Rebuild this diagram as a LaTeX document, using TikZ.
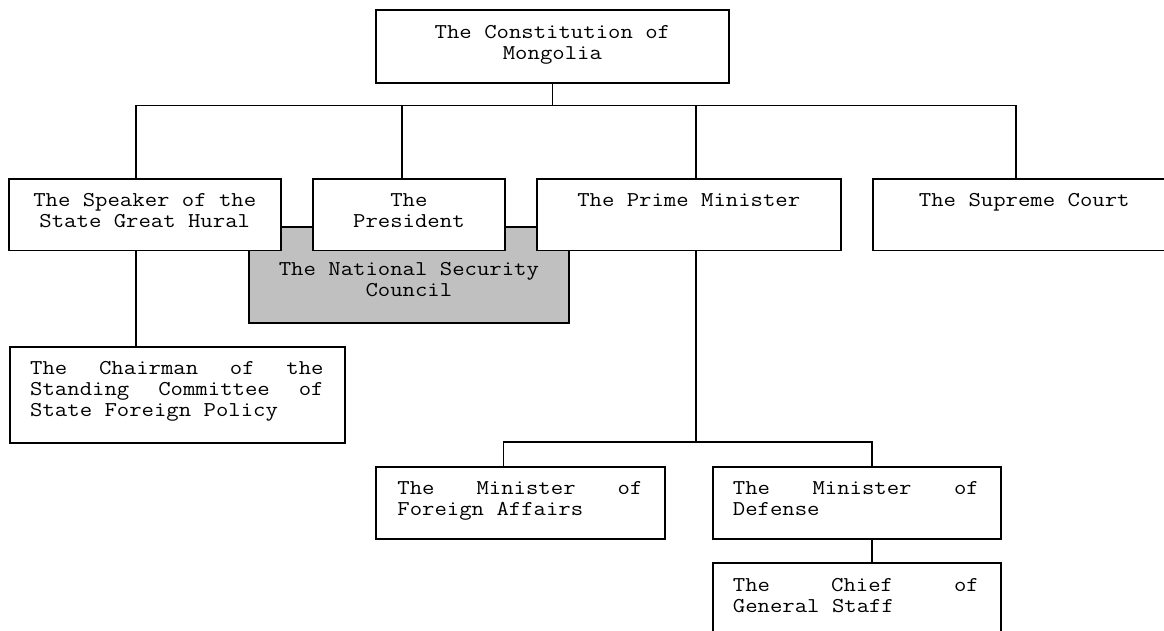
\documentclass[tikz,border=0pt]{standalone}
\usepackage{fontspec}
\newfontfamily\boxmono{Latin Modern Mono}[FakeStretch=1.14]
\definecolor{nscgray}{HTML}{C0C0C0}
\tikzset{
  conn/.style={line width=1.8pt},
  orgbox/.style={draw, line width=1.8pt, fill=white, inner sep=0pt, anchor=north west,
    font=\boxmono\fontsize{21.1}{20.8}\selectfont},
  nscbox/.style={orgbox, fill=nscgray}
}
% centred text box: width, height, first-baseline offset, text
\newcommand{\cbx}[4]{\parbox[c][#2][t]{#1}{\centering\rule{0pt}{#3}#4}}
% justified text box: width, height, left inset, text
\newcommand{\jbx}[4]{\parbox[c][#2][t]{#1}{\raggedright\leftskip=#3\relax\rule{0pt}{28pt}#4}}
\newcommand{\jl}[2]{\leavevmode\hbox to #1{#2}}
\begin{document}
\begin{tikzpicture}[x=1pt,y=-1pt]
\useasboundingbox (0,0) rectangle (1164,630);
\clip (0,0) rectangle (1164,630);

\coordinate (busL) at (136,105.5);
\coordinate (busR) at (1016,105.5);
\coordinate (jPres) at (401.7,105.5);
\coordinate (jPM) at (695.8,105.5);
\coordinate (bus2L) at (503.4,441.7);
\coordinate (bus2R) at (872,441.7);

\node[orgbox] (con) at (375,9.3) {\cbx{353pt}{72.4pt}{28pt}{The Constitution of\\Mongolia}};

\node[nscbox] (nsc) at (247.7,226) {\cbx{320.6pt}{95.7pt}{49pt}{The National Security\\Council}};

\node[orgbox] (spk) at (7.7,177.7) {\cbx{272.3pt}{71.8pt}{28pt}{The Speaker of the\\State Great Hural}};
\node[orgbox] (pres) at (311.7,177.7) {\cbx{192.6pt}{71.8pt}{28pt}{The\\President}};
\node[orgbox] (pm) at (535.7,177.7) {\cbx{304.3pt}{71.8pt}{28pt}{The Prime Minister}};
\node[orgbox] (sc) at (871.7,177.7) {\cbx{303.3pt}{71.8pt}{28pt}{The Supreme Court}};

\node[orgbox] (chair) at (9.3,345.7) {\jbx{334.7pt}{96pt}{20pt}{%
  \jl{293.4pt}{The\hfill Chairman\hfill of\hfill the}\\
  \jl{293.4pt}{Standing\hfill Committee\hfill of}\\
  State Foreign Policy}};

\node[orgbox] (mfa) at (375,465.7) {\jbx{289pt}{72pt}{21.5pt}{%
  \jl{245pt}{The\hfill Minister\hfill of}\\
  Foreign Affairs}};
\node[orgbox] (md) at (712,465.7) {\jbx{288pt}{72pt}{20pt}{%
  \jl{246pt}{The\hfill Minister\hfill of}\\
  Defense}};
\node[orgbox] (chief) at (712,562.3) {\jbx{288pt}{80pt}{20pt}{%
  \jl{246pt}{The\hfill Chief\hfill of}\\
  General Staff}};

\draw[conn] (con.south) -- (con.south |- busL);
\draw[conn] (busL |- spk.north) -- (busL) -- (busR) -- (busR |- sc.north);
\draw[conn] (jPres) -- (jPres |- pres.north);
\draw[conn] (jPM) -- (jPM |- pm.north);
\draw[conn] (busL |- spk.south) -- (busL |- chair.north);
\draw[conn] (jPM |- pm.south) -- (jPM |- bus2L);
\draw[conn] (bus2L |- mfa.north) -- (bus2L) -- (bus2R) -- (bus2R |- md.north);
\draw[conn] (bus2R |- md.south) -- (bus2R |- chief.north);
\end{tikzpicture}
\end{document}
